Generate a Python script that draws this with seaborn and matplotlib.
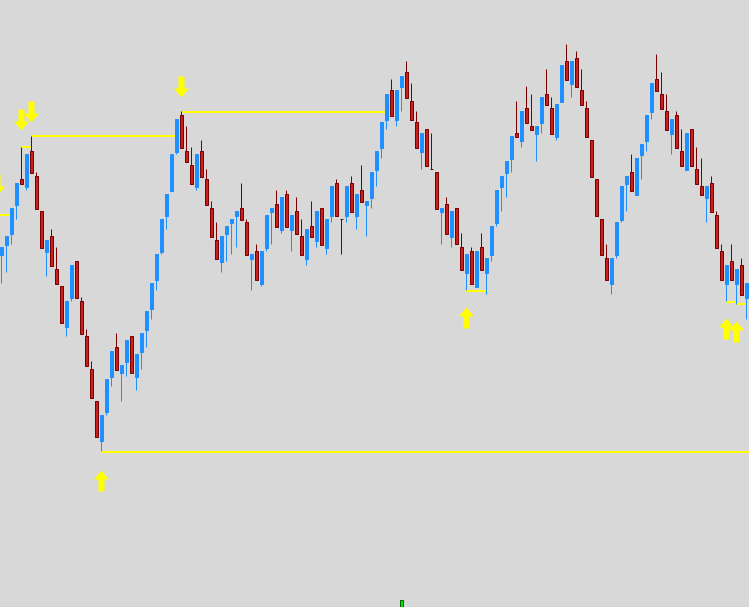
import numpy as np
import pandas as pd
import matplotlib.pyplot as plt
from matplotlib.path import Path
import seaborn as sns

# OHLC bars (oldest bar first)
opens = [1.0345, 1.0355, 1.0366, 1.0395, 1.0421, 1.0413, 1.0449, 1.0424, 1.0389, 1.0348,
         1.0364, 1.0331, 1.0314, 1.0273, 1.0302, 1.0339, 1.0299, 1.0264, 1.0231, 1.0199,
         1.0159, 1.0188, 1.0223, 1.0253, 1.0227, 1.0238, 1.0264, 1.0223, 1.0248, 1.0270,
         1.0291, 1.0320, 1.0348, 1.0384, 1.0409, 1.0448, 1.0485, 1.0449, 1.0435, 1.0413,
         1.0449, 1.0421, 1.0392, 1.0360, 1.0338, 1.0366, 1.0377, 1.0384, 1.0392, 1.0378,
         1.0341, 1.0349, 1.0316, 1.0352, 1.0388, 1.0396, 1.0370, 1.0406, 1.0370, 1.0389,
         1.0364, 1.0341, 1.0374, 1.0359, 1.0392, 1.0352, 1.0384, 1.0417, 1.0381, 1.0384,
         1.0417, 1.0384, 1.0410, 1.0395, 1.0402, 1.0430, 1.0452, 1.0480, 1.0510, 1.0480,
         1.0513, 1.0528, 1.0499, 1.0478, 1.0448, 1.0471, 1.0431, 1.0428, 1.0388, 1.0396,
         1.0363, 1.0392, 1.0353, 1.0327, 1.0349, 1.0313, 1.0353, 1.0327, 1.0345, 1.0377,
         1.0413, 1.0427, 1.0441, 1.0467, 1.0459, 1.0492, 1.0474, 1.0466, 1.0477, 1.0506,
         1.0492, 1.0463, 1.0498, 1.0539, 1.0516, 1.0542, 1.0510, 1.0492, 1.0460, 1.0421,
         1.0381, 1.0342, 1.0316, 1.0345, 1.0380, 1.0416, 1.0428, 1.0405, 1.0445, 1.0459,
         1.0488, 1.0521, 1.0506, 1.0489, 1.0466, 1.0485, 1.0449, 1.0430, 1.0471, 1.0431,
         1.0414, 1.0402, 1.0417, 1.0385, 1.0349, 1.0316, 1.0339, 1.0316, 1.0335, 1.0302]
highs = [1.0353, 1.0364, 1.0392, 1.0417, 1.0453, 1.0446, 1.0464, 1.0428, 1.0389, 1.0360,
         1.0371, 1.0353, 1.0314, 1.0299, 1.0335, 1.0339, 1.0303, 1.0271, 1.0239, 1.0199,
         1.0185, 1.0221, 1.0249, 1.0267, 1.0235, 1.0260, 1.0264, 1.0246, 1.0267, 1.0289,
         1.0317, 1.0346, 1.0381, 1.0406, 1.0446, 1.0481, 1.0489, 1.0474, 1.0453, 1.0446,
         1.0460, 1.0431, 1.0399, 1.0378, 1.0364, 1.0374, 1.0381, 1.0389, 1.0417, 1.0381,
         1.0346, 1.0356, 1.0349, 1.0385, 1.0392, 1.0410, 1.0403, 1.0410, 1.0385, 1.0403,
         1.0381, 1.0371, 1.0399, 1.0389, 1.0392, 1.0381, 1.0414, 1.0421, 1.0381, 1.0414,
         1.0424, 1.0406, 1.0435, 1.0399, 1.0428, 1.0449, 1.0478, 1.0506, 1.0521, 1.0510,
         1.0524, 1.0539, 1.0517, 1.0489, 1.0467, 1.0471, 1.0467, 1.0428, 1.0392, 1.0403,
         1.0389, 1.0392, 1.0367, 1.0346, 1.0353, 1.0349, 1.0367, 1.0342, 1.0374, 1.0410,
         1.0424, 1.0439, 1.0464, 1.0499, 1.0489, 1.0514, 1.0506, 1.0474, 1.0503, 1.0531,
         1.0503, 1.0496, 1.0535, 1.0556, 1.0539, 1.0549, 1.0531, 1.0499, 1.0460, 1.0421,
         1.0381, 1.0356, 1.0342, 1.0378, 1.0414, 1.0424, 1.0446, 1.0442, 1.0456, 1.0485,
         1.0517, 1.0546, 1.0528, 1.0506, 1.0481, 1.0489, 1.0471, 1.0467, 1.0471, 1.0453,
         1.0442, 1.0414, 1.0424, 1.0389, 1.0356, 1.0335, 1.0356, 1.0331, 1.0342, 1.0317]
lows = [1.0317, 1.0328, 1.0356, 1.0381, 1.0416, 1.0410, 1.0427, 1.0391, 1.0352, 1.0324,
        1.0334, 1.0316, 1.0277, 1.0264, 1.0299, 1.0302, 1.0266, 1.0234, 1.0202, 1.0163,
        1.0149, 1.0185, 1.0214, 1.0230, 1.0199, 1.0224, 1.0227, 1.0210, 1.0231, 1.0253,
        1.0281, 1.0310, 1.0346, 1.0371, 1.0409, 1.0446, 1.0452, 1.0438, 1.0416, 1.0410,
        1.0423, 1.0395, 1.0363, 1.0341, 1.0328, 1.0339, 1.0346, 1.0353, 1.0380, 1.0345,
        1.0310, 1.0320, 1.0314, 1.0349, 1.0356, 1.0373, 1.0367, 1.0373, 1.0349, 1.0366,
        1.0345, 1.0335, 1.0363, 1.0353, 1.0355, 1.0346, 1.0378, 1.0384, 1.0346, 1.0378,
        1.0388, 1.0371, 1.0398, 1.0364, 1.0392, 1.0414, 1.0442, 1.0471, 1.0484, 1.0474,
        1.0489, 1.0502, 1.0480, 1.0452, 1.0431, 1.0434, 1.0431, 1.0391, 1.0356, 1.0366,
        1.0353, 1.0356, 1.0330, 1.0310, 1.0316, 1.0313, 1.0330, 1.0306, 1.0339, 1.0374,
        1.0389, 1.0403, 1.0428, 1.0463, 1.0453, 1.0477, 1.0470, 1.0439, 1.0467, 1.0495,
        1.0466, 1.0460, 1.0498, 1.0520, 1.0503, 1.0513, 1.0495, 1.0463, 1.0423, 1.0384,
        1.0345, 1.0320, 1.0306, 1.0342, 1.0378, 1.0389, 1.0409, 1.0405, 1.0421, 1.0449,
        1.0481, 1.0509, 1.0491, 1.0470, 1.0446, 1.0452, 1.0434, 1.0430, 1.0434, 1.0416,
        1.0405, 1.0378, 1.0388, 1.0352, 1.0320, 1.0299, 1.0320, 1.0296, 1.0305, 1.0281]
closes = [1.0353, 1.0364, 1.0392, 1.0417, 1.0416, 1.0446, 1.0427, 1.0391, 1.0352, 1.0360,
          1.0334, 1.0316, 1.0277, 1.0299, 1.0335, 1.0302, 1.0266, 1.0234, 1.0202, 1.0163,
          1.0185, 1.0221, 1.0249, 1.0230, 1.0235, 1.0260, 1.0227, 1.0246, 1.0267, 1.0289,
          1.0317, 1.0346, 1.0381, 1.0406, 1.0446, 1.0481, 1.0452, 1.0438, 1.0416, 1.0446,
          1.0423, 1.0395, 1.0363, 1.0341, 1.0364, 1.0374, 1.0381, 1.0389, 1.0380, 1.0345,
          1.0346, 1.0320, 1.0349, 1.0385, 1.0392, 1.0373, 1.0403, 1.0373, 1.0385, 1.0366,
          1.0345, 1.0371, 1.0363, 1.0389, 1.0355, 1.0381, 1.0414, 1.0384, 1.0381, 1.0414,
          1.0388, 1.0406, 1.0398, 1.0399, 1.0428, 1.0449, 1.0478, 1.0506, 1.0484, 1.0510,
          1.0524, 1.0502, 1.0480, 1.0452, 1.0467, 1.0434, 1.0431, 1.0391, 1.0392, 1.0366,
          1.0389, 1.0356, 1.0330, 1.0346, 1.0316, 1.0349, 1.0330, 1.0342, 1.0374, 1.0410,
          1.0424, 1.0439, 1.0464, 1.0463, 1.0489, 1.0477, 1.0470, 1.0474, 1.0503, 1.0495,
          1.0466, 1.0496, 1.0535, 1.0520, 1.0539, 1.0513, 1.0495, 1.0463, 1.0423, 1.0384,
          1.0345, 1.0320, 1.0342, 1.0378, 1.0414, 1.0424, 1.0409, 1.0442, 1.0456, 1.0485,
          1.0517, 1.0509, 1.0491, 1.0470, 1.0481, 1.0452, 1.0434, 1.0467, 1.0434, 1.0416,
          1.0405, 1.0414, 1.0388, 1.0352, 1.0320, 1.0335, 1.0320, 1.0331, 1.0305, 1.0317]

# yellow support / resistance segments (price, first bar, last bar)
level_prices = [1.0464, 1.0488, 1.0453, 1.0385, 1.0148, 1.0309, 1.02985, 1.02955]
level_start = [6, 36, 4, -1, 20, 93, 145, 147]
level_end = [35, 77, 6, 2, 150, 97, 147, 149]

# fractal arrows (bar, tip price)
down_bars = [-1, 4, 6, 36]
down_tips = [1.0405, 1.0470, 1.0478, 1.0503]
up_bars = [20, 93, 145, 147]
up_tips = [1.0130, 1.0293, 1.0282, 1.0279]

# green marker at the bottom edge
marker_bar = 80

bg = '#d8d8d8'
bull_col = '#1e90ff'
bear_fill = '#c8201e'
bear_edge = '#7a0000'
yellow = '#ffff00'
px = 0.72  # one pixel in points at dpi 100

df = pd.DataFrame({'open': opens, 'high': highs, 'low': lows, 'close': closes})
df['bar'] = np.arange(len(df))
df['bull'] = df['close'] > df['open']
up = df[df['bull']]
dn = df[~df['bull']]

sns.set_theme(style='white', rc={'axes.facecolor': bg, 'figure.facecolor': bg})

fig = plt.figure(figsize=(7.49, 6.07), dpi=100)
ax = fig.add_axes([0, 0, 1, 1])

# levels under the candles
ax.hlines(level_prices, level_start, level_end, color=yellow, linewidth=2 * px, zorder=1)

# wicks
ax.vlines(up['bar'], up['low'], up['high'], color=bull_col, linewidth=px, zorder=2)
ax.vlines(dn['bar'], dn['low'], dn['high'], color=bear_edge, linewidth=px, zorder=2)

# bodies
ax.bar(up['bar'], up['close'] - up['open'], bottom=up['open'], width=0.42,
       color=bull_col, edgecolor=bull_col, linewidth=px, zorder=3)
ax.bar(dn['bar'], dn['open'] - dn['close'], bottom=dn['close'], width=0.42,
       color=bear_fill, edgecolor=bear_edge, linewidth=px, zorder=3)

# arrow markers, tip at the origin
up_arrow = Path([(0, 0), (7.5, -9), (3, -9), (3, -21), (-3, -21),
                 (-3, -9), (-7.5, -9), (0, 0)], closed=True)
down_arrow = Path([(0, 0), (7.5, 9), (3, 9), (3, 21), (-3, 21),
                   (-3, 9), (-7.5, 9), (0, 0)], closed=True)
arrow_size = (2 * 21 * px) ** 2
sns.scatterplot(x=up_bars, y=up_tips, marker=up_arrow, s=arrow_size, color=yellow,
                linewidth=0, ax=ax, zorder=4)
sns.scatterplot(x=down_bars, y=down_tips, marker=down_arrow, s=arrow_size, color=yellow,
                linewidth=0, ax=ax, zorder=4)

# green tick at the bottom
ax.bar([marker_bar], [0.0010], bottom=0.9990, width=0.5, color='#00e600',
       edgecolor='#006400', linewidth=px, zorder=4)

ax.set_xlim(-0.3, 149.5)
ax.set_ylim(0.9993, 1.0600)
ax.axis('off')

plt.savefig('out.png', dpi=100, facecolor=bg)
